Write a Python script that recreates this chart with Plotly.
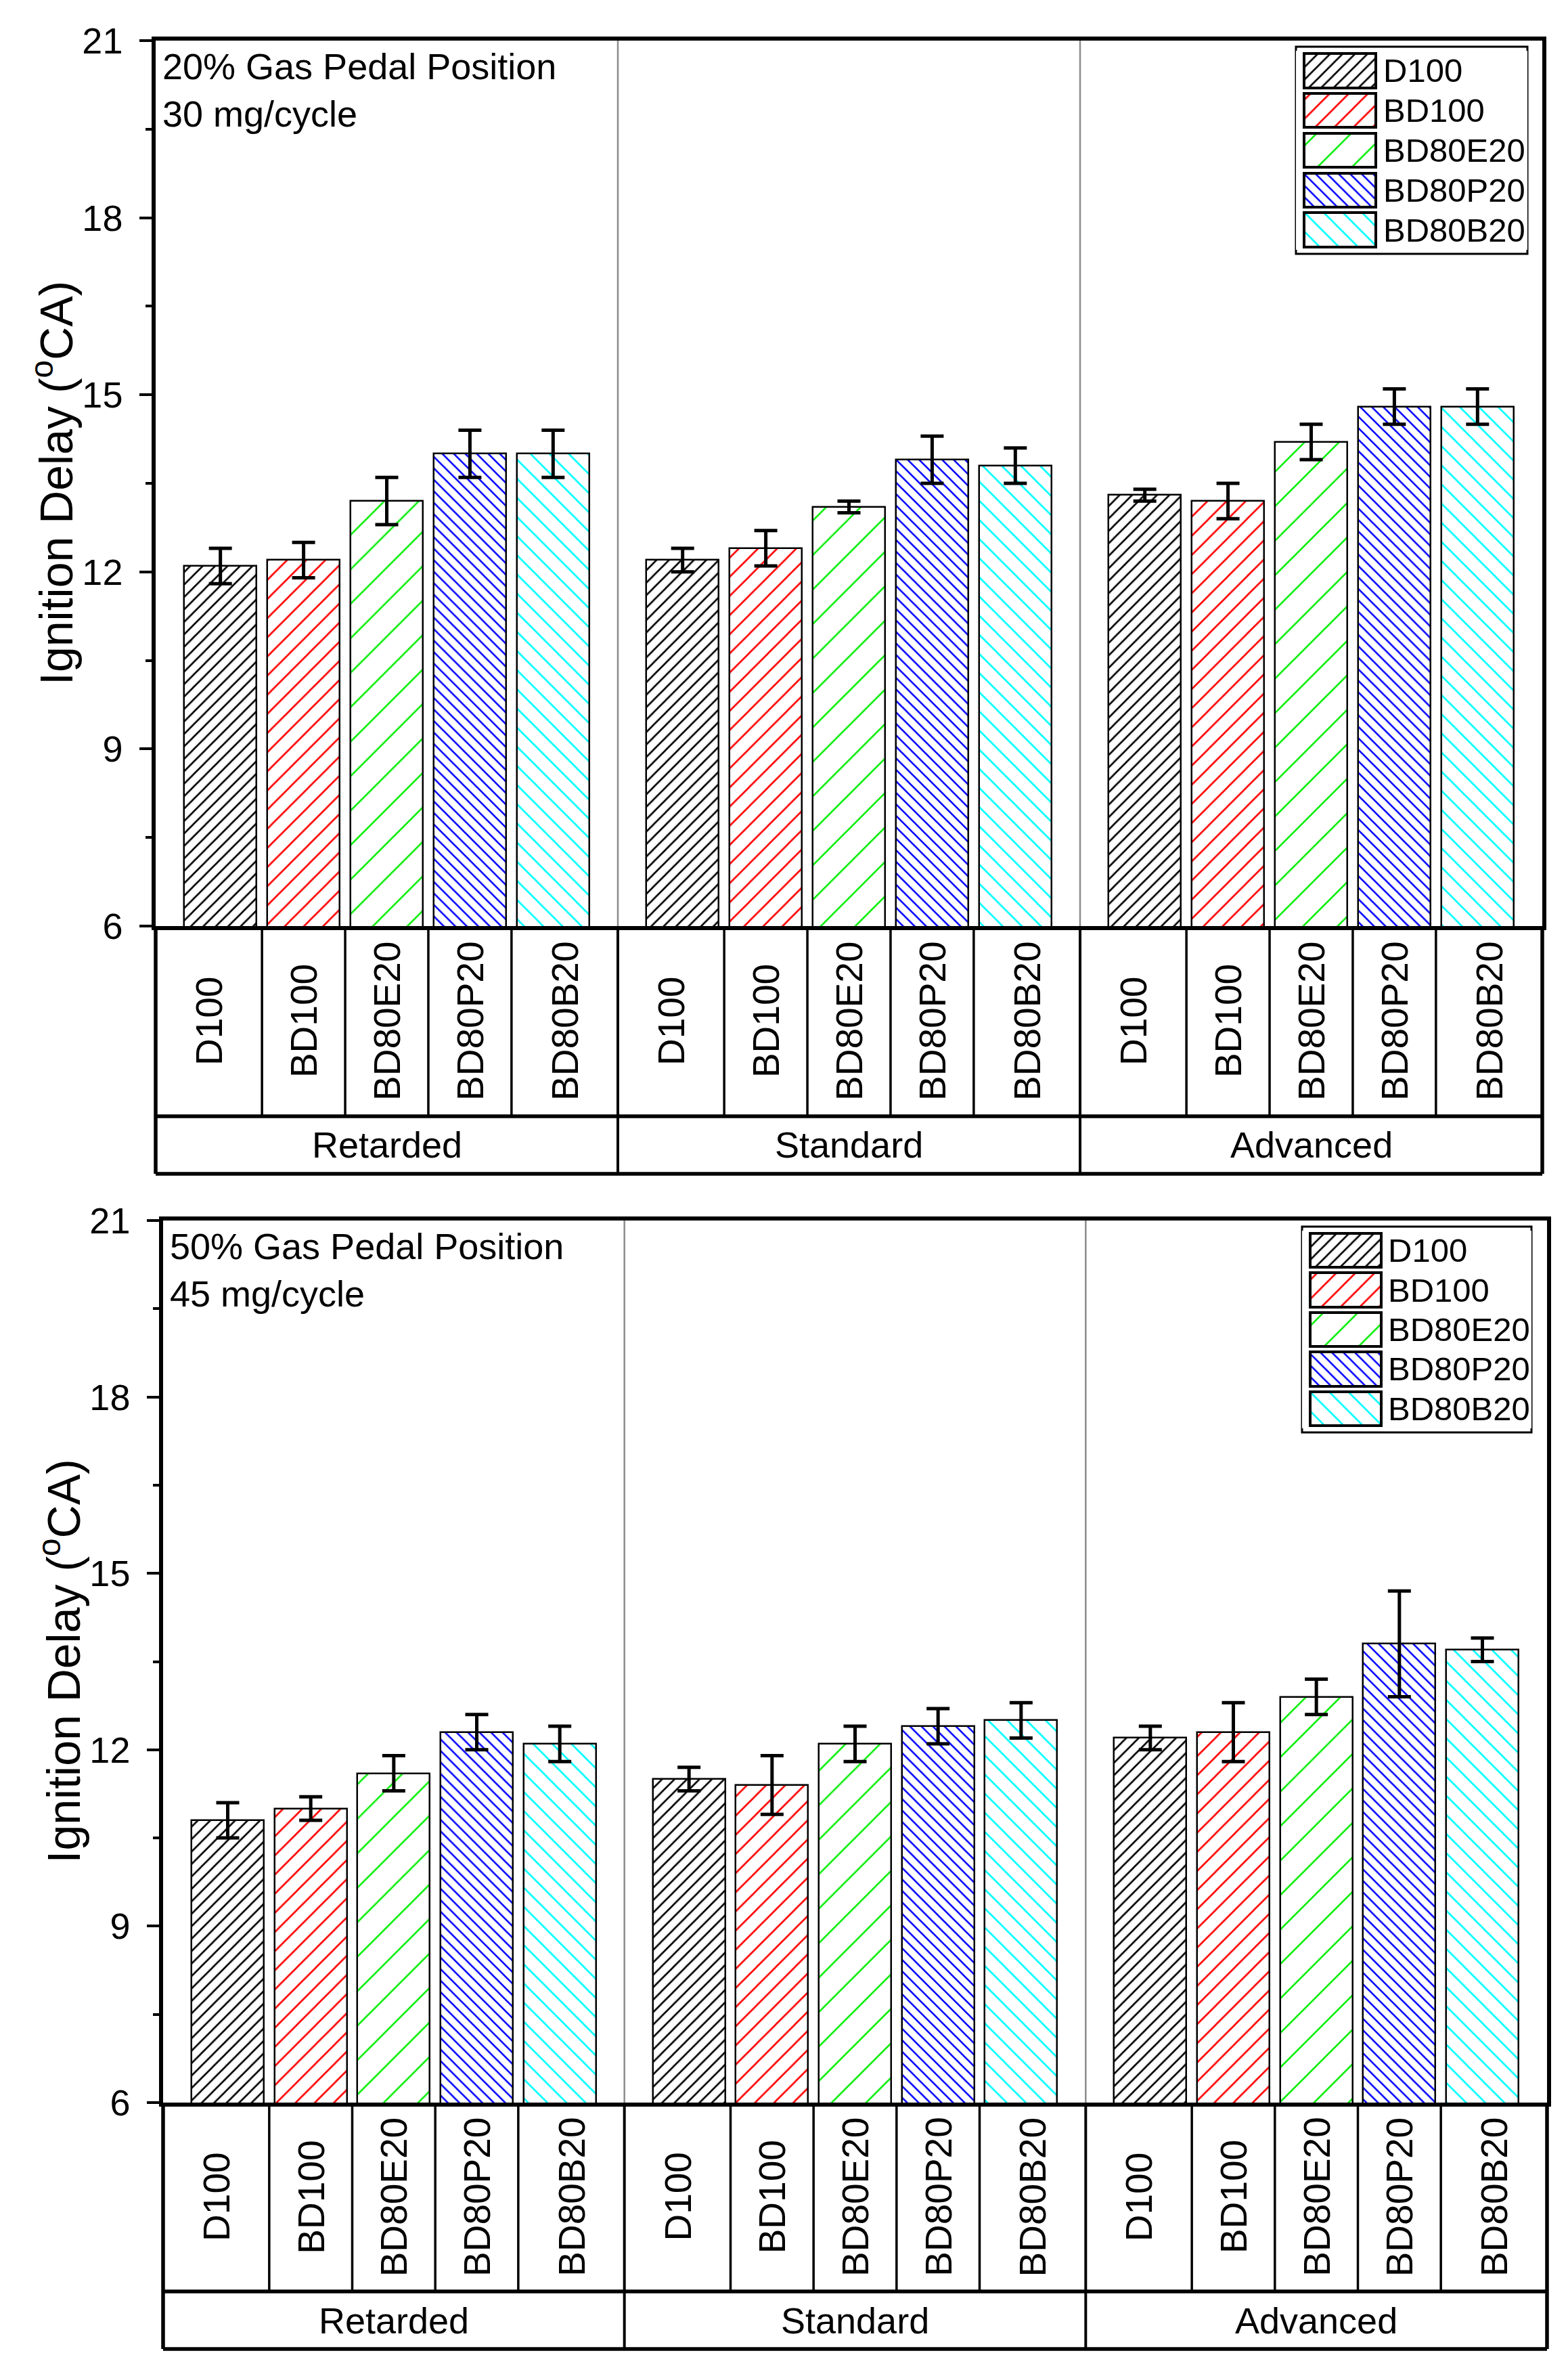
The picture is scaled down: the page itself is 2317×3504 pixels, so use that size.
import plotly.graph_objects as go

# ---------------- data ----------------
fuels = ["D100", "BD100", "BD80E20", "BD80P20", "BD80B20"]
timings = ["Retarded", "Standard", "Advanced"]
y_ticks = [6, 9, 12, 15, 18, 21]

# 20% gas pedal position, 30 mg/cycle  (Retarded, Standard, Advanced)
id20_D100 = [12.1, 12.2, 13.3]
id20_BD100 = [12.2, 12.4, 13.2]
id20_BD80E20 = [13.2, 13.1, 14.2]
id20_BD80P20 = [14.0, 13.9, 14.8]
id20_BD80B20 = [14.0, 13.8, 14.8]
err20_D100 = [0.3, 0.2, 0.1]
err20_BD100 = [0.3, 0.3, 0.3]
err20_BD80E20 = [0.4, 0.1, 0.3]
err20_BD80P20 = [0.4, 0.4, 0.3]
err20_BD80B20 = [0.4, 0.3, 0.3]

# 50% gas pedal position, 45 mg/cycle
id50_D100 = [10.8, 11.5, 12.2]
id50_BD100 = [11.0, 11.4, 12.3]
id50_BD80E20 = [11.6, 12.1, 12.9]
id50_BD80P20 = [12.3, 12.4, 13.8]
id50_BD80B20 = [12.1, 12.5, 13.7]
err50_D100 = [0.3, 0.2, 0.2]
err50_BD100 = [0.2, 0.5, 0.5]
err50_BD80E20 = [0.3, 0.3, 0.3]
err50_BD80P20 = [0.3, 0.3, 0.9]
err50_BD80B20 = [0.3, 0.3, 0.2]

panels = [
    dict(title="20% Gas Pedal Position<br>30 mg/cycle",
         vals=[id20_D100, id20_BD100, id20_BD80E20, id20_BD80P20, id20_BD80B20],
         errs=[err20_D100, err20_BD100, err20_BD80E20, err20_BD80P20, err20_BD80B20]),
    dict(title="50% Gas Pedal Position<br>45 mg/cycle",
         vals=[id50_D100, id50_BD100, id50_BD80E20, id50_BD80P20, id50_BD80B20],
         errs=[err50_D100, err50_BD100, err50_BD80E20, err50_BD80P20, err50_BD80B20]),
]

# ---------------- styles ----------------
colors = ["black", "red", "#00ee00", "blue", "cyan"]
shapes_p = ["/", "/", "/", "\\", "\\"]
psize = [13, 20, 36, 12, 20]

W, H = 2317, 3504
FONT = "Arial, Liberation Sans, sans-serif"

# geometry in pixels (full-size reference)
geo = [
    dict(x0=230, x1=2279, y0=60, y1=1368, row=1649, bot=1734,
         leg=(1915, 2257, 69, 375), ytitle_x=78),
    dict(x0=241, x1=2286, y0=1803, y1=3106, row=3385, bot=3470,
         leg=(1924, 2263, 1812, 2116), ytitle_x=89),
]

def px(x):
    return x / W

def py(y):
    return 1 - y / H

G = 5.557            # group width in bar-slot units
OFF = (G - 4) / 2    # offset of first bar centre within group
BW = 0.87

fig = go.Figure()
shapes = []
annotations = []

for p, (panel, g) in enumerate(zip(panels, geo)):
    xa = "x" if p == 0 else "x2"
    ya = "y" if p == 0 else "y2"
    xl = "x3" if p == 0 else "x4"
    yl = "y3" if p == 0 else "y4"
    for i, f in enumerate(fuels):
        xs = [k * G + OFF + i for k in range(len(timings))]
        fig.add_trace(go.Bar(
            x=xs, y=panel["vals"][i], base=0, name=f, width=BW,
            xaxis=xa, yaxis=ya, showlegend=False,
            marker=dict(color="white", line=dict(color="black", width=2.5),
                        pattern=dict(shape=shapes_p[i], fgcolor=colors[i], bgcolor="white",
                                     size=psize[i], solidity=2.6 / psize[i],
                                     fillmode="overlay", fgopacity=1)),
            error_y=dict(type="data", array=panel["errs"][i], color="black",
                         thickness=5, width=17),
        ))
        # legend swatch (custom legend drawn on its own small axes)
        fig.add_trace(go.Bar(
            y=[f], x=[0.31], base=[0.035], orientation="h", width=0.86,
            xaxis=xl, yaxis=yl, showlegend=False,
            marker=dict(color="white", line=dict(color="black", width=4),
                        pattern=dict(shape=shapes_p[i], fgcolor=colors[i], bgcolor="white",
                                     size=psize[i], solidity=2.6 / psize[i],
                                     fillmode="overlay", fgopacity=1)),
        ))
        annotations.append(dict(x=0.37, y=f, xref=xl, yref=yl, text=f, showarrow=False,
                                xanchor="left", yanchor="middle",
                                font=dict(size=49, family=FONT, color="black")))

    xr = xa
    # plot-area group separators (thin grey)
    for k in range(1, len(timings)):
        shapes.append(dict(type="line", xref=xr, yref="paper", x0=k * G, x1=k * G,
                           y0=py(g["y1"]), y1=py(g["y0"]),
                           line=dict(color="#8c8c8c", width=2.5)))
    # table: cell separators
    for k in range(len(timings)):
        for i in range(len(fuels) - 1):
            xc = k * G + OFF + i + 0.5
            shapes.append(dict(type="line", xref=xr, yref="paper", x0=xc, x1=xc,
                               y0=py(g["row"]), y1=py(g["y1"]),
                               line=dict(color="black", width=3.5)))
        # group separators in table
        if k > 0:
            shapes.append(dict(type="line", xref=xr, yref="paper", x0=k * G, x1=k * G,
                               y0=py(g["bot"]), y1=py(g["y1"]),
                               line=dict(color="black", width=4)))
        # category labels
        for i, f in enumerate(fuels):
            if i == 0:
                c0 = k * G
            else:
                c0 = k * G + OFF + i - 0.5
            if i == len(fuels) - 1:
                c1 = (k + 1) * G
            else:
                c1 = k * G + OFF + i + 0.5
            annotations.append(dict(x=(c0 + c1) / 2, y=(py(g["y1"]) + py(g["row"])) / 2,
                                    xref=xr, yref="paper", text=f, textangle=-90,
                                    showarrow=False, xanchor="center", yanchor="middle",
                                    font=dict(size=55, family=FONT, color="black")))
        annotations.append(dict(x=k * G + G / 2, y=(py(g["row"]) + py(g["bot"])) / 2,
                                xref=xr, yref="paper", text=timings[k], showarrow=False,
                                xanchor="center", yanchor="middle",
                                font=dict(size=54, family=FONT, color="black")))
    # table outer lines
    for yy in (g["row"], g["bot"]):
        shapes.append(dict(type="line", xref="paper", yref="paper",
                           x0=px(g["x0"]), x1=px(g["x1"]), y0=py(yy), y1=py(yy),
                           line=dict(color="black", width=5.5)))
    for xx in (g["x0"], g["x1"]):
        shapes.append(dict(type="line", xref="paper", yref="paper",
                           x0=px(xx), x1=px(xx), y0=py(g["bot"]), y1=py(g["y1"]),
                           line=dict(color="black", width=5.5)))
    # legend box
    lx0, lx1, ly0, ly1 = g["leg"]
    shapes.append(dict(type="rect", xref="paper", yref="paper",
                       x0=px(lx0), x1=px(lx1), y0=py(ly1), y1=py(ly0),
                       line=dict(color="black", width=3), layer="below",
                       fillcolor="white"))
    # panel annotation
    annotations.append(dict(x=px(g["x0"] + 8), y=py(g["y0"] + 6), xref="paper", yref="paper",
                            text=panel["title"], showarrow=False, align="left",
                            xanchor="left", yanchor="top",
                            font=dict(size=54, family=FONT, color="black")))
    # y title
    annotations.append(dict(x=px(g["ytitle_x"]), y=(py(g["y0"]) + py(g["y1"])) / 2,
                            xref="paper", yref="paper",
                            text="Ignition Delay (<sup>o</sup>CA)", textangle=-90,
                            showarrow=False, xanchor="center", yanchor="middle",
                            font=dict(size=68, family=FONT, color="black")))

def xaxis_cfg(g):
    return dict(domain=[px(g["x0"]), px(g["x1"])], range=[0, 3 * G],
                showticklabels=False, ticks="", showgrid=False, zeroline=False,
                automargin=False,
                showline=True, mirror=True, linecolor="black", linewidth=5.5)

def yaxis_cfg(g):
    return dict(domain=[py(g["y1"]), py(g["y0"])], range=[6, 21],
                tickvals=y_ticks, ticks="outside", ticklen=18, tickwidth=4,
                tickcolor="black", showgrid=False, zeroline=False, automargin=False,
                showline=True, mirror=True, linecolor="black", linewidth=5.5,
                tickfont=dict(size=54, family=FONT, color="black"),
                ticklabelstandoff=14,
                minor=dict(dtick=1.5, tick0=6, ticks="outside", ticklen=9,
                           tickwidth=4, tickcolor="black", showgrid=False))

def leg_axes(g):
    lx0, lx1, ly0, ly1 = g["leg"]
    xa = dict(domain=[px(lx0), px(lx1)], range=[0, 1], visible=False,
              fixedrange=True, automargin=False)
    ya = dict(domain=[py(ly1 - 6), py(ly0 + 6)], categoryorder="array",
              categoryarray=fuels[::-1], visible=False, fixedrange=True, automargin=False)
    return xa, ya

l3x, l3y = leg_axes(geo[0])
l4x, l4y = leg_axes(geo[1])
l3x["anchor"] = "y3"; l3y["anchor"] = "x3"
l4x["anchor"] = "y4"; l4y["anchor"] = "x4"

fig.update_layout(
    width=W, height=H, margin=dict(l=0, r=0, t=0, b=0, pad=0, autoexpand=False),
    paper_bgcolor="white", plot_bgcolor="white",
    barmode="overlay", bargap=0, showlegend=False,
    font=dict(family=FONT, color="black"),
    xaxis=dict(anchor="y", **xaxis_cfg(geo[0])),
    yaxis=dict(anchor="x", **yaxis_cfg(geo[0])),
    xaxis2=dict(anchor="y2", **xaxis_cfg(geo[1])),
    yaxis2=dict(anchor="x2", **yaxis_cfg(geo[1])),
    xaxis3=l3x, yaxis3=l3y, xaxis4=l4x, yaxis4=l4y,
    shapes=shapes, annotations=annotations,
)

fig.write_html("out.html")
